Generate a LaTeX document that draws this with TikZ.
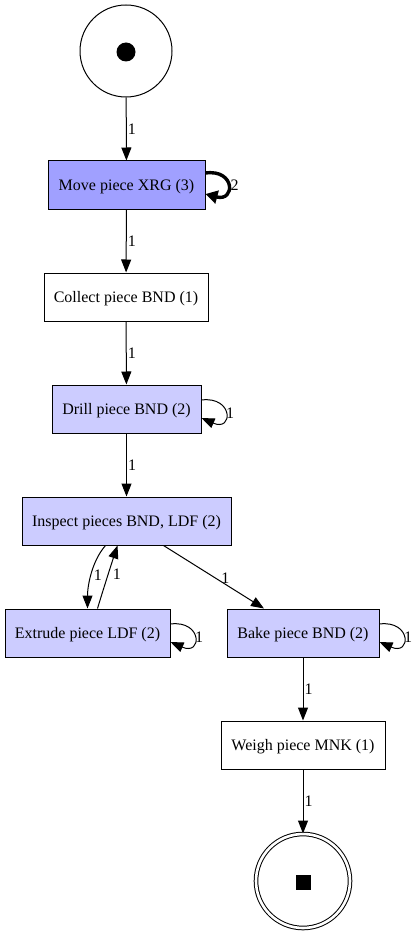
\documentclass[tikz,border=0pt]{standalone}
\usepackage{fontspec}
\setmainfont{Liberation Serif}
\usetikzlibrary{arrows.meta}
\definecolor{busy}{RGB}{160,160,255}
\definecolor{light}{RGB}{204,204,255}
\tikzset{
  trans/.style={draw, line width=1pt, minimum height=48pt, inner sep=0pt, text depth=0pt, yshift=0pt, font=\fontsize{16pt}{18pt}\selectfont},
  place/.style={draw, circle, line width=1pt, inner sep=0pt},
  edge/.style={line width=1pt, -{Triangle[length=13pt,width=10pt]}},
  heavy/.style={line width=3.4pt, -{Triangle[length=12pt,width=13pt]}},
  lbl/.style={font=\fontsize{16pt}{18pt}\selectfont, inner sep=1pt}
}
\begin{document}
\begin{tikzpicture}[x=1pt,y=-1pt]
  \useasboundingbox (0,0) rectangle (416,936);

  % places
  \node[place, minimum size=92pt] (start) at (126,51) {};
  \fill (126,52) circle (9.5pt);
  \node[place, minimum size=94pt, double, double distance=2.6pt] (finish) at (303,881) {};
  \fill (295.5,874.5) rectangle (310.5,889.5);

  % transitions
  \node[trans, fill=busy,  minimum width=157pt] (move)  at (126.5,185) {Move piece XRG (3)};
  \node[trans, fill=white, minimum width=164pt] (coll)  at (126,297)   {Collect piece BND (1)};
  \node[trans, fill=light, minimum width=149pt] (drill) at (126.5,409) {Drill piece BND (2)};
  \node[trans, fill=light, minimum width=209pt] (insp)  at (126.5,521) {Inspect pieces BND, LDF (2)};
  \node[trans, fill=light, minimum width=165pt] (extr)  at (87.5,633)  {Extrude piece LDF (2)};
  \node[trans, fill=light, minimum width=152pt] (bake)  at (303,633)   {Bake piece BND (2)};
  \node[trans, fill=white, minimum width=164pt] (weigh) at (303,745)   {Weigh piece MNK (1)};

  % straight arcs
  \draw[edge] (start) -- node[lbl, right] {1} (move);
  \draw[edge] (move) -- node[lbl, right] {1} (coll);
  \draw[edge] (coll) -- node[lbl, right] {1} (drill);
  \draw[edge] (drill) -- node[lbl, right] {1} (insp);
  \draw[edge] (bake) -- node[lbl, right] {1} (weigh);
  \draw[edge] (weigh) -- node[lbl, right] {1} (finish);
  \draw[edge] ([xshift=37pt]insp.south) -- node[lbl, pos=0.6, above right, xshift=-4pt, yshift=-2pt] {1} ([xshift=-39pt]bake.north);

  % arcs between inspection and extrusion
  \draw[edge] ([xshift=-21pt]insp.south) .. controls +(-14,16) and +(0,-22) .. node[lbl, pos=0.5, right=1pt] {1} (extr.north);
  \draw[edge] ([xshift=10pt]extr.north) .. controls +(6,-20) and +(-4,12) .. node[lbl, pos=0.5, right=3pt] {1} ([xshift=-9pt]insp.south);

  % self loops
  \draw[heavy] ([yshift=12pt]move.east) .. controls +(30,-4) and +(30,8) .. node[lbl, right, pos=0.5] {2} ([yshift=-9pt]move.east);
  \draw[edge] ([yshift=9pt]drill.east) .. controls +(32,-4) and +(32,14) .. node[lbl, right, pos=0.5, xshift=-1pt] {1} ([yshift=-9pt]drill.east);
  \draw[edge] ([yshift=9pt]extr.east) .. controls +(32,-4) and +(32,14) .. node[lbl, right, pos=0.5, xshift=-1pt] {1} ([yshift=-9pt]extr.east);
  \draw[edge] ([yshift=9pt]bake.east) .. controls +(32,-4) and +(32,14) .. node[lbl, right, pos=0.5, xshift=-1pt] {1} ([yshift=-9pt]bake.east);
\end{tikzpicture}
\end{document}
